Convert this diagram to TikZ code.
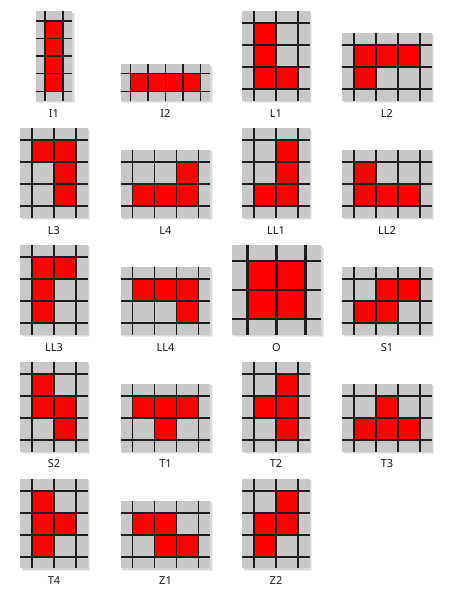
\documentclass[tikz,border=0pt]{standalone}
\usepackage{fontspec}
\setmainfont{Noto Sans}
\definecolor{bggrey}{HTML}{C8C8C8}
\definecolor{gridc}{HTML}{1E1E1E}
\definecolor{cellred}{HTML}{FF0000}
\definecolor{celledge}{HTML}{7A0000}
\definecolor{shad}{HTML}{D9D9D9}
\definecolor{shad2}{HTML}{EDEDED}
\definecolor{txt}{HTML}{1A1A1A}
\tikzset{
  lbl/.style={font=\fontsize{11}{13}\selectfont, text=txt, inner sep=0pt, anchor=center},
}
% #1 name, #2 cx, #3 bottom, #4 cols, #5 rows, #6 cell size, #7 cells, #8 label
\newcommand\tetpiece[8]{%
  \pgfmathsetmacro\pW{(#4+1.08)*#6}%
  \pgfmathsetmacro\pH{(#5+1.08)*#6}%
  \pgfmathsetmacro\pL{#2-\pW/2+0.54*#6}%
  \pgfmathsetmacro\pT{#3-\pH+0.54*#6}%
  \pgfmathsetmacro\pLW{0.09*#6}%
  \pgfmathsetmacro\pEW{0.05*#6}%
  \begin{scope}[shift={(\pL,\pT)}, x={(#6pt,0pt)}, y={(0pt,-#6pt)}]
    \fill[shad2] ([xshift=2.6pt,yshift=-2.6pt]-0.54,-0.54) rectangle ([xshift=2.6pt,yshift=-2.6pt]#4+0.54,#5+0.54);
    \fill[shad] ([xshift=1.4pt,yshift=-1.4pt]-0.54,-0.54) rectangle ([xshift=1.4pt,yshift=-1.4pt]#4+0.54,#5+0.54);
    \fill[bggrey] (-0.54,-0.54) rectangle (#4+0.54,#5+0.54);
    \foreach \ca/\cb in {#7} {
      \fill[cellred, draw=celledge, line width=\pEW pt] (\ca,\cb) rectangle (\ca+1,\cb+1);
    }
    \foreach \i in {0,...,#4} {
      \draw[gridc, line width=\pLW pt] (\i,-0.54) -- (\i,#5+0.54);
    }
    \foreach \j in {0,...,#5} {
      \draw[gridc, line width=\pLW pt] (-0.54,\j) -- (#4+0.54,\j);
    }
  \end{scope}
  \node[lbl] (#1) at (#2,#3+12.5) {#8};
}
\begin{document}
\begin{tikzpicture}[x=1pt,y=-1pt]
\useasboundingbox[fill=white] (0,0) rectangle (449,599);
% row 1
\tetpiece{i1}{54}{100.8}{1}{4}{17.6}{0/0,0/1,0/2,0/3}{I1}
\tetpiece{i2}{165.5}{100.8}{4}{1}{17.6}{0/0,1/0,2/0,3/0}{I2}
\tetpiece{l1}{276}{100.8}{2}{3}{22}{0/0,0/1,0/2,1/2}{L1}
\tetpiece{l2}{387}{100.8}{3}{2}{22}{0/0,1/0,2/0,0/1}{L2}
% row 2
\tetpiece{l3}{54}{217.7}{2}{3}{22}{0/0,1/0,1/1,1/2}{L3}
\tetpiece{l4}{165.5}{217.7}{3}{2}{22}{2/0,0/1,1/1,2/1}{L4}
\tetpiece{ll1}{276}{217.7}{2}{3}{22}{1/0,1/1,0/2,1/2}{LL1}
\tetpiece{ll2}{387}{217.7}{3}{2}{22}{0/0,0/1,1/1,2/1}{LL2}
% row 3
\tetpiece{ll3}{54}{334.6}{2}{3}{22}{0/0,1/0,0/1,0/2}{LL3}
\tetpiece{ll4}{165.5}{334.6}{3}{2}{22}{0/0,1/0,2/0,2/1}{LL4}
\tetpiece{o}{276.5}{334.6}{2}{2}{29}{0/0,1/0,0/1,1/1}{O}
\tetpiece{s1}{387}{334.6}{3}{2}{22}{1/0,2/0,0/1,1/1}{S1}
% row 4
\tetpiece{s2}{54}{451.5}{2}{3}{22}{0/0,0/1,1/1,1/2}{S2}
\tetpiece{t1}{165.5}{451.5}{3}{2}{22}{0/0,1/0,2/0,1/1}{T1}
\tetpiece{t2}{276}{451.5}{2}{3}{22}{1/0,0/1,1/1,1/2}{T2}
\tetpiece{t3}{387}{451.5}{3}{2}{22}{1/0,0/1,1/1,2/1}{T3}
% row 5
\tetpiece{t4}{54}{568.4}{2}{3}{22}{0/0,0/1,1/1,0/2}{T4}
\tetpiece{z1}{165.5}{568.4}{3}{2}{22}{0/0,1/0,1/1,2/1}{Z1}
\tetpiece{z2}{276}{568.4}{2}{3}{22}{1/0,0/1,1/1,0/2}{Z2}
\end{tikzpicture}
\end{document}
